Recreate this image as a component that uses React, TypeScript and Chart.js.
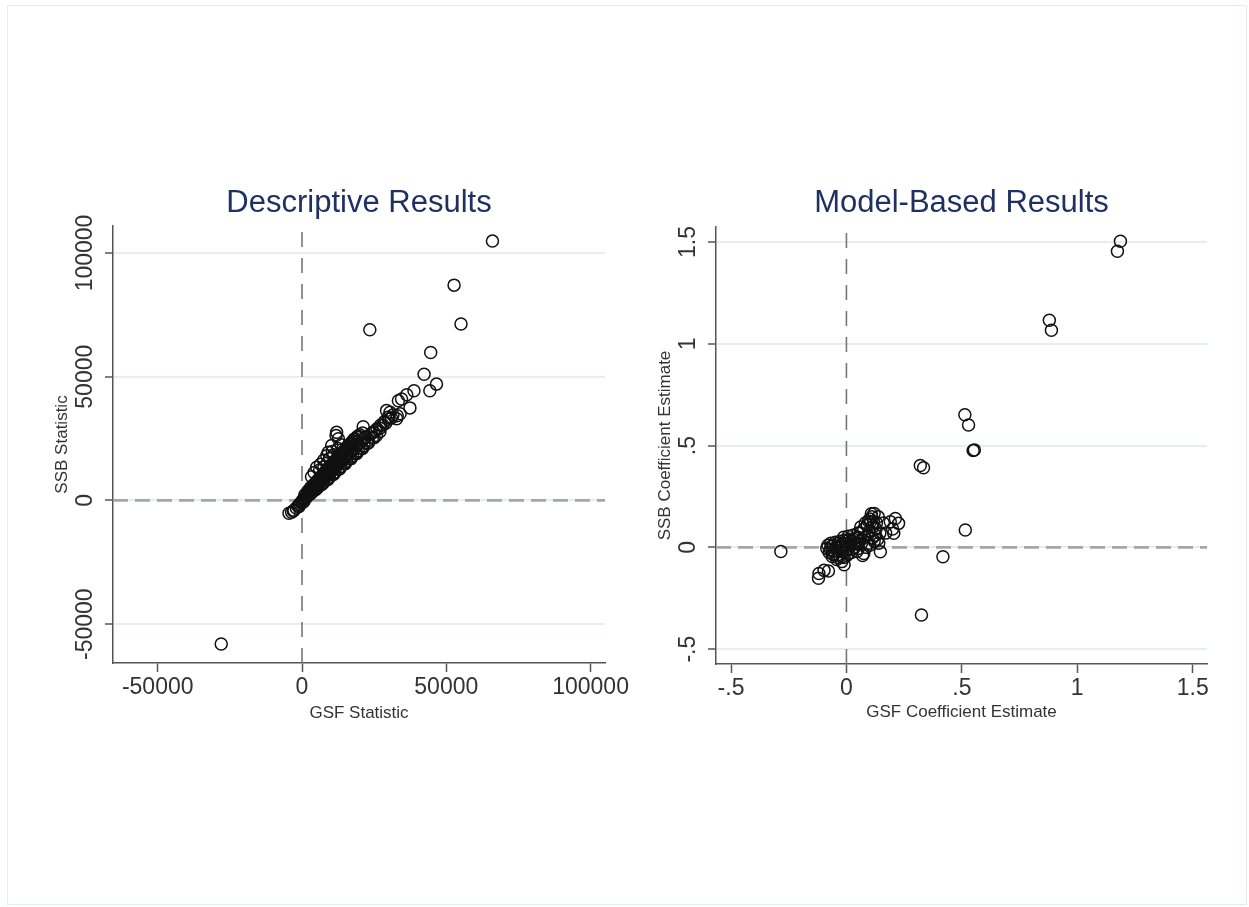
import React, { useEffect, useRef } from 'react';
import { Chart, registerables } from 'chart.js';

Chart.register(...registerables);

const FONT = '"Liberation Sans", Arial, Helvetica, sans-serif';

// ---------- Left panel: Descriptive Results ----------
const leftTitle = 'Descriptive Results';
const leftXTitle = 'GSF Statistic';
const leftYTitle = 'SSB Statistic';
const leftXTicks = [-50000, 0, 50000, 100000];
const leftXTickLabels = ['-50000', '0', '50000', '100000'];
const leftYTicks = [-50000, 0, 50000, 100000];
const leftYTickLabels = ['-50000', '0', '50000', '100000'];
const leftXRange = [-65500, 105000];
const leftYRange = [-65700, 110900];
const leftOutliers: [number, number][] = [
  [-28000, -58000], [66000, 104800], [52700, 87000], [55100, 71300], [23500, 69000],
  [44600, 59800], [42300, 51000], [46600, 47000], [44300, 44300], [38800, 44300],
  [36300, 42700], [33400, 40300], [37400, 37400], [32800, 33000], [30500, 35600],
  [31500, 34500], [29800, 33600], [28500, 31800], [27200, 30400], [26000, 29000],
  [24800, 27600], [21200, 29800], [25800, 26200], [24400, 25300], [23000, 24400],
  [24000, 27000], [25500, 28300], [27000, 29200], [28000, 30500], [29000, 31200],
  [30000, 32800], [31000, 33300], [33000, 34200], [34000, 35000], [29300, 36300],
  [34500, 41000],
];
const leftUpperBranch: [number, number][] = [
  [12000, 27500], [12600, 24900], [11800, 26200], [10300, 22200], [9100, 19500],
  [8600, 18100], [10500, 19800], [7500, 16200], [6400, 14600], [5100, 13400],
  [4200, 11300], [3300, 9600], [6100, 12300], [7600, 13600], [8800, 15200],
  [11000, 18500], [12500, 21000], [13500, 22500], [9500, 16800],
];
const leftBand: [number, number][] = [
  [-4500, -5200], [-3600, -4800], [-2800, -4000], [-2000, -3100], [-1400, -2300],
  [-900, -1600], [-400, -900], [0, -300], [300, 200], [600, 700], [900, 1000],
  [1200, 1500], [1500, 1700], [1800, 2200], [2100, 2500], [2400, 2900], [2700, 3100],
  [3000, 3600], [3300, 3900], [3600, 4200], [3900, 4600], [4200, 4900], [4500, 5300],
  [4800, 5600], [5100, 6000], [5400, 6200], [5700, 6700], [6000, 7000], [6300, 7500],
  [6600, 7800], [6900, 8200], [7200, 8500], [7500, 8900], [7800, 9300], [8100, 9500],
  [8400, 10000], [8700, 10300], [9000, 10600], [9400, 11100], [9800, 11500],
  [10200, 12000], [10600, 12400], [11000, 13000], [11400, 13300], [11800, 13900],
  [12200, 14300], [12600, 14800], [13000, 15200], [13500, 15800], [14000, 16400],
  [14500, 16900], [15000, 17500], [15500, 18100], [16000, 18600], [16600, 19300],
  [17200, 20000], [17800, 20700], [18400, 21400], [19000, 22100], [19600, 22800],
  [20200, 23400], [20800, 24100], [21500, 24900], [22200, 25700],
  [1000, 2300], [2000, 3800], [3000, 5200], [4000, 6300], [5000, 7600], [6000, 9000],
  [7000, 10300], [8000, 11600], [9000, 13000], [10000, 14200], [11000, 15600],
  [12000, 16800], [13000, 18000], [14000, 19300], [15000, 20500], [16000, 21600],
  [17000, 22800], [18000, 24000],
  [1500, 1200], [2500, 2300], [3500, 3300], [4500, 4200], [5500, 5300], [6500, 6200],
  [7500, 7300], [8500, 8300], [9500, 9400], [10500, 10400], [11500, 11500],
  [12500, 12600], [13500, 13700], [14500, 14800], [15500, 15800], [16500, 16900],
  [17500, 18000], [18500, 19000], [19500, 20100], [20500, 21100], [21500, 22100],
  [22500, 23000],
];
const leftBandUpper: [number, number][] = [
  [2000, 2900], [3000, 4300], [4000, 5600], [5000, 7000], [6000, 8300], [7000, 9700],
  [8000, 11000], [9000, 12400], [10000, 13800], [11000, 15200], [12000, 16400],
  [13000, 17800], [14000, 19200], [15000, 20400], [16000, 21900], [17000, 23300],
  [18000, 24700], [19000, 25600], [20000, 26500], [21000, 27200],
  [2500, 3300], [3500, 4800], [4500, 6200], [5500, 7700], [6500, 9000], [7500, 10400],
  [8500, 11900], [9500, 13300], [10500, 14600], [11500, 15900], [12500, 17300],
  [13500, 18600], [14500, 19900], [15500, 21300], [16500, 22600], [17500, 23800],
  [18500, 24900], [19500, 26000],
];
const leftBandLower: [number, number][] = [
  [3000, 2700], [5000, 4600], [7000, 6500], [9000, 8500], [11000, 10600],
  [13000, 12700], [15000, 14800], [17000, 16900], [19000, 19000], [21000, 21000],
  [23000, 23200], [25000, 25300], [27000, 27800], [-3000, -4300], [-1000, -2400],
  [500, -600], [1000, 300],
];

// ---------- Right panel: Model-Based Results ----------
const rightTitle = 'Model-Based Results';
const rightXTitle = 'GSF Coefficient Estimate';
const rightYTitle = 'SSB Coefficient Estimate';
const rightXTicks = [-0.5, 0, 0.5, 1, 1.5];
const rightXTickLabels = ['-.5', '0', '.5', '1', '1.5'];
const rightYTicks = [-0.5, 0, 0.5, 1, 1.5];
const rightYTickLabels = ['-.5', '0', '.5', '1', '1.5'];
const rightXRange = [-0.565, 1.562];
const rightYRange = [-0.573, 1.574];
const rightOutliers: [number, number][] = [
  [1.187, 1.504], [1.174, 1.455], [0.879, 1.116], [0.888, 1.067], [0.513, 0.652],
  [0.529, 0.601], [0.549, 0.476], [0.554, 0.479], [0.32, 0.402], [0.334, 0.391],
  [0.515, 0.085], [0.418, -0.046], [0.325, -0.332], [-0.284, -0.02],
  [-0.121, -0.152], [-0.119, -0.128], [-0.097, -0.113], [-0.078, -0.116],
];
const rightCluster: [number, number][] = [
  [-0.07, -0.01], [-0.065, 0.005], [-0.06, -0.02], [-0.055, 0.01], [-0.05, -0.03],
  [-0.045, 0.0], [-0.04, -0.015], [-0.035, 0.02], [-0.03, -0.04], [-0.025, 0.005],
  [-0.02, -0.02], [-0.015, 0.015], [-0.01, -0.05], [-0.005, 0.0], [0.0, -0.01],
  [0.005, 0.02], [0.01, -0.03], [0.015, 0.01], [0.02, 0.03], [0.025, -0.01],
  [0.03, 0.04], [0.035, 0.0], [0.04, 0.02], [0.045, -0.02], [0.05, 0.05],
  [-0.02, -0.07], [-0.01, -0.085], [0.0, 0.03], [0.06, 0.07], [0.065, 0.02],
  [0.07, -0.04], [0.075, 0.09], [0.08, 0.05], [0.085, 0.0], [0.09, 0.11],
  [0.095, 0.13], [0.1, 0.08], [0.105, 0.126], [0.11, 0.15], [0.115, 0.1],
  [0.12, 0.167], [0.125, 0.06], [0.13, 0.12], [0.135, 0.04], [0.14, 0.02],
  [0.147, -0.022], [0.16, 0.12], [0.17, 0.07], [0.19, 0.126], [0.205, 0.069],
  [0.212, 0.142], [0.226, 0.118], [0.2, 0.09], [0.1, 0.01], [0.12, 0.03],
  [0.05, 0.07], [0.075, -0.03],
];
const rightClusterCore: [number, number][] = [
  [-0.085, -0.005], [-0.08, 0.01], [-0.075, -0.025], [-0.068, 0.02], [-0.058, -0.035],
  [-0.048, 0.025], [-0.038, -0.05], [-0.028, 0.03], [-0.018, -0.045], [-0.008, 0.035],
  [0.002, -0.04], [0.012, 0.04], [0.022, -0.025], [0.032, 0.015], [0.042, 0.045],
  [0.052, -0.005], [0.058, 0.03], [-0.062, -0.045], [-0.042, -0.06], [-0.012, 0.05],
  [0.008, 0.055], [0.028, 0.06], [0.048, 0.02], [0.062, 0.1], [0.082, 0.12],
  [0.092, 0.06], [0.102, 0.14], [0.112, 0.045], [0.118, 0.125], [0.128, 0.09],
  [0.138, 0.15], [0.108, 0.165], [0.095, 0.02], [0.145, 0.07],
];

type Panel = {
  title: string; xTitle: string; yTitle: string;
  xTicks: number[]; xTickLabels: string[];
  yTicks: number[]; yTickLabels: string[];
  xRange: number[]; yRange: number[];
  points: [number, number][];
  area: { left: number; top: number; right: number; bottom: number };
  width: number; height: number;
};

const Y_AXIS_W = 70;
const X_AXIS_H = 120;
const TICK_FONT = 23;

const yTickLabelPlugin = {
  id: 'yTickLabels',
  afterDraw(chart: any, _args: any, opts: any) {
    const y = chart.scales.y;
    const ctx = chart.ctx;
    ctx.save();
    ctx.font = `${TICK_FONT}px ${FONT}`;
    ctx.fillStyle = '#333333';
    ctx.textAlign = 'center';
    ctx.textBaseline = 'middle';
    y.ticks.forEach((t: any, i: number) => {
      const py = y.getPixelForValue(t.value);
      ctx.save();
      ctx.translate(chart.chartArea.left - opts.offset, py);
      ctx.rotate(-Math.PI / 2);
      ctx.fillText(opts.labels[i], 0, 0);
      ctx.restore();
    });
    ctx.restore();
  },
};

function makeConfig(p: Panel): any {
  const titleSize = 31;
  const titleLH = titleSize * 1.2;
  const titleCenter = 203;
  const tPadTop = titleCenter - titleLH / 2;
  const tPadBottom = p.area.top - tPadTop - titleLH;
  const axisTitleSize = 17;
  const axisTitleLH = axisTitleSize * 1.2;
  return {
    type: 'scatter',
    data: {
      datasets: [
        {
          data: p.points.map(([x, y]) => ({ x, y })),
          pointStyle: 'circle',
          pointRadius: 6,
          pointBorderWidth: 1.5,
          pointBorderColor: '#111111',
          pointBackgroundColor: 'rgba(0,0,0,0)',
          showLine: false,
          order: 0,
        },
        {
          data: [{ x: 0, y: p.yRange[0] }, { x: 0, y: p.yRange[1] }],
          showLine: true,
          borderColor: '#777777',
          borderWidth: 1.6,
          borderDash: [15, 11],
          pointRadius: 0,
          order: 2,
        },
        {
          data: [{ x: p.xRange[0], y: 0 }, { x: p.xRange[1], y: 0 }],
          showLine: true,
          borderColor: '#a6a6a6',
          borderWidth: 2.6,
          borderDash: [15, 7],
          pointRadius: 0,
          order: 1,
        },
      ],
    },
    options: {
      animation: false,
      responsive: false,
      devicePixelRatio: 1,
      events: [],
      layout: {
        padding: {
          left: p.area.left - Y_AXIS_W,
          right: p.width - p.area.right,
          top: 0,
          bottom: p.height - p.area.bottom - X_AXIS_H,
        },
      },
      plugins: {
        legend: { display: false },
        tooltip: { enabled: false },
        title: {
          display: true,
          text: p.title,
          fullSize: false,
          color: '#1f3163',
          font: { family: FONT, size: titleSize, weight: 'normal', lineHeight: 1.2 },
          padding: { top: tPadTop, bottom: tPadBottom },
        },
        yTickLabels: { labels: p.yTickLabels, offset: 27 },
      },
      scales: {
        x: {
          type: 'linear',
          min: p.xRange[0],
          max: p.xRange[1],
          afterBuildTicks: (s: any) => { s.ticks = p.xTicks.map((v) => ({ value: v })); },
          afterFit: (s: any) => { s.height = X_AXIS_H; s.paddingLeft = 0; s.paddingRight = 0; },
          ticks: {
            autoSkip: false,
            maxRotation: 0,
            minRotation: 0,
            padding: 2,
            color: '#333333',
            font: { family: FONT, size: TICK_FONT },
            callback: (_v: any, i: number) => p.xTickLabels[i],
          },
          grid: {
            drawOnChartArea: false,
            drawTicks: true,
            tickLength: 9,
            tickColor: '#555555',
            tickWidth: 1.5,
          },
          border: { display: true, color: '#555555', width: 1.5 },
          title: {
            display: true,
            text: p.xTitle,
            color: '#333333',
            font: { family: FONT, size: axisTitleSize, lineHeight: 1.2 },
            padding: { top: 0, bottom: X_AXIS_H - (713 - p.area.bottom) - axisTitleLH / 2 + (p.area.bottom - 663) },
          },
        },
        y: {
          type: 'linear',
          min: p.yRange[0],
          max: p.yRange[1],
          afterBuildTicks: (s: any) => { s.ticks = p.yTicks.map((v) => ({ value: v })); },
          afterFit: (s: any) => { s.width = Y_AXIS_W; },
          ticks: { display: false },
          grid: {
            drawOnChartArea: true,
            color: '#e6efef',
            lineWidth: 2,
            drawTicks: true,
            tickLength: 8,
            tickColor: '#555555',
            tickWidth: 1.5,
          },
          border: { display: true, color: '#555555', width: 1.5 },
          title: {
            display: true,
            text: p.yTitle,
            color: '#333333',
            font: { family: FONT, size: axisTitleSize, lineHeight: 1.2 },
            padding: { top: Y_AXIS_W - 51 - axisTitleLH / 2, bottom: 0 },
          },
        },
      },
    },
    plugins: [yTickLabelPlugin],
  };
}

const leftPanel: Panel = {
  title: leftTitle, xTitle: leftXTitle, yTitle: leftYTitle,
  xTicks: leftXTicks, xTickLabels: leftXTickLabels,
  yTicks: leftYTicks, yTickLabels: leftYTickLabels,
  xRange: leftXRange, yRange: leftYRange,
  points: [...leftOutliers, ...leftUpperBranch, ...leftBand, ...leftBandUpper, ...leftBandLower],
  area: { left: 113, top: 226, right: 605, bottom: 663 },
  width: 660, height: 907,
};

const rightPanel: Panel = {
  title: rightTitle, xTitle: rightXTitle, yTitle: rightYTitle,
  xTicks: rightXTicks, xTickLabels: rightXTickLabels,
  yTicks: rightYTicks, yTickLabels: rightYTickLabels,
  xRange: rightXRange, yRange: rightYRange,
  points: [...rightOutliers, ...rightCluster, ...rightClusterCore],
  area: { left: 716 - 625, top: 227, right: 1207 - 625, bottom: 664 },
  width: 624, height: 907,
};

function PanelChart({ panel, left }: { panel: Panel; left: number }) {
  const ref = useRef<HTMLCanvasElement | null>(null);
  useEffect(() => {
    if (!ref.current) return;
    const chart = new Chart(ref.current, makeConfig(panel));
    return () => chart.destroy();
  }, [panel]);
  return (
    <canvas
      ref={ref}
      width={panel.width}
      height={panel.height}
      style={{ position: 'absolute', left, top: 0, width: panel.width, height: panel.height }}
    />
  );
}

export default function App() {
  return (
    <div style={{ position: 'absolute', left: 0, top: 0, width: 1249, height: 907, background: '#ffffff', overflow: 'hidden' }}>
      <div style={{ position: 'absolute', left: 7, top: 5, width: 1240, height: 900, border: '1px solid #e4eded', boxSizing: 'border-box' }} />
      <PanelChart panel={leftPanel} left={0} />
      <PanelChart panel={rightPanel} left={625} />
    </div>
  );
}
